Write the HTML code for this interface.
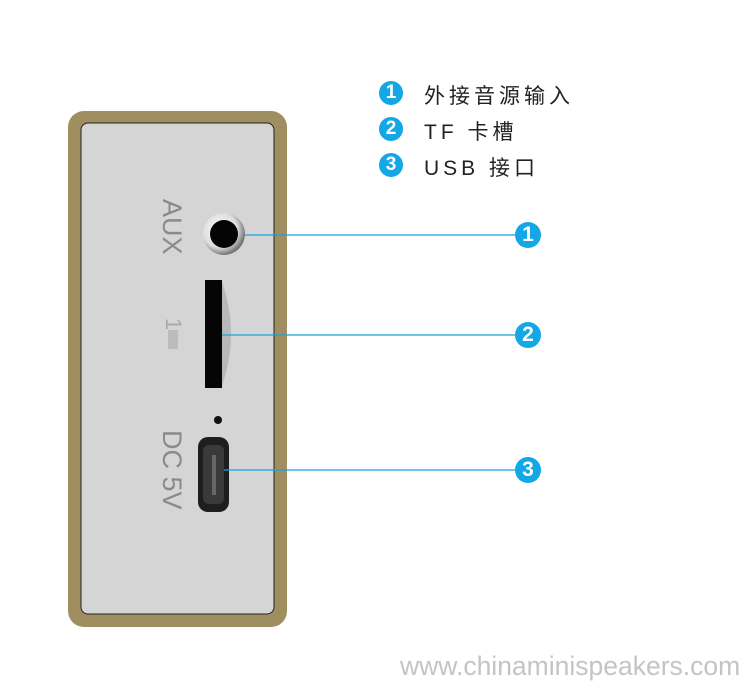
<!DOCTYPE html>
<html><head><meta charset="utf-8"><style>
body{margin:0;width:750px;height:690px;background:#fff;overflow:hidden;position:relative;font-family:"Liberation Sans","Noto Sans CJK SC",sans-serif}
.leg{position:absolute;left:424px;font-size:21px;letter-spacing:4px;color:#222}
.num{position:absolute;width:24px;height:24px;border-radius:50%;background:#13a7e6;color:#fff;font:bold 19px "Liberation Sans",sans-serif;text-align:center;line-height:24px}
.vt{position:absolute;color:#8a8a8a;font-size:27px;transform:rotate(90deg);transform-origin:0 0;white-space:nowrap}
</style></head><body>
<div class="num" style="left:379px;top:81px">1</div>
<div class="num" style="left:379px;top:117px">2</div>
<div class="num" style="left:379px;top:153px">3</div>
<div class="leg" style="top:80px">外接音源输入</div>
<div class="leg" style="top:116px">TF 卡槽</div>
<div class="leg" style="top:152px">USB 接口</div>
<svg width="750" height="690" style="position:absolute;left:0;top:0">
<defs><radialGradient id="j" cx="0.4" cy="0.4" r="0.6"><stop offset="0" stop-color="#fff"/><stop offset="0.7" stop-color="#ddd"/><stop offset="1" stop-color="#777"/></radialGradient></defs>
<rect x="68" y="111" width="219" height="516" rx="16" fill="#9f8e60"/>
<rect x="81" y="123" width="193" height="491" rx="7" fill="#d5d5d5" stroke="#222" stroke-width="1"/>
<circle cx="224" cy="234" r="21" fill="url(#j)"/>
<circle cx="224" cy="234" r="14" fill="#050505"/>
<path d="M222 282 Q240 334 222 386 Z" fill="#b8b8b8"/>
<rect x="205" y="280" width="17" height="108" fill="#050505"/>
<circle cx="218" cy="420" r="4" fill="#111"/>
<rect x="198" y="437" width="31" height="75" rx="10" fill="#1e1e1e"/>
<rect x="203" y="445" width="21" height="59" rx="6" fill="#3a3a3a"/>
<rect x="212" y="455" width="4" height="40" fill="#666"/>
<rect x="168" y="330" width="10" height="19" fill="#bcbcbc"/>
<g stroke="#19a1de" stroke-width="1.3">
<line x1="245" y1="235" x2="516" y2="235"/>
<line x1="222" y1="335" x2="516" y2="335"/>
<line x1="224" y1="470" x2="516" y2="470"/>
</g>
</svg>
<div class="num" style="left:515px;top:222px;width:26px;height:26px;line-height:26px;font-size:21px">1</div>
<div class="num" style="left:515px;top:322px;width:26px;height:26px;line-height:26px;font-size:21px">2</div>
<div class="num" style="left:515px;top:457px;width:26px;height:26px;line-height:26px;font-size:21px">3</div>
<div class="vt" style="left:187px;top:199px">AUX</div>
<div class="vt" style="left:186px;top:318px;font-size:22px;color:#aaa">1</div>
<div class="vt" style="left:187px;top:430px">DC 5V</div>
<div style="position:absolute;left:400px;top:651px;font-size:26.5px;color:#c4c4c4">www.chinaminispeakers.com</div>
</body></html>
